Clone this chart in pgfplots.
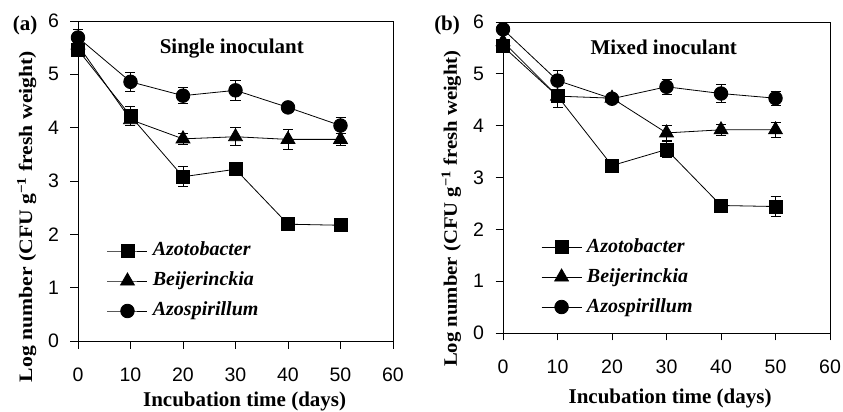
\documentclass[border=0pt]{standalone}
\usepackage{fontspec}
\setmainfont{Liberation Serif}
\setsansfont{Liberation Sans}
\usepackage{pgfplots}
\pgfplotsset{compat=1.18}
\usepackage{pgfplotstable}

% Panel (a): single inoculant
\pgfplotstableread{
x y e
0 5.46 0.08
10 4.22 0.18
20 3.08 0.19
30 3.22 0.07
40 2.19 0.06
50 2.17 0.06
}\aAzt
\pgfplotstableread{
x y e
0 5.55 0.05
10 4.15 0.10
20 3.79 0.10
30 3.83 0.17
40 3.78 0.19
50 3.78 0.12
}\aBei
\pgfplotstableread{
x y e
0 5.69 0.15
10 4.86 0.18
20 4.60 0.15
30 4.70 0.19
40 4.38 0.10
50 4.04 0.15
}\aAzs
% Panel (b): mixed inoculant
\pgfplotstableread{
x y e
0 5.53 0.10
10 4.57 0.21
20 3.23 0.05
30 3.54 0.15
40 2.46 0.05
50 2.44 0.20
}\bAzt
\pgfplotstableread{
x y e
0 5.62 0.05
10 4.57 0.05
20 4.53 0.08
30 3.86 0.14
40 3.92 0.10
50 3.92 0.15
}\bBei
\pgfplotstableread{
x y e
0 5.86 0.05
10 4.87 0.20
20 4.52 0.06
30 4.75 0.15
40 4.62 0.17
50 4.53 0.14
}\bAzs

\newcommand{\ylab}[1]{\scalebox{#1}[1]{Log number (CFU g\textsuperscript{−1} fresh weight)}}

\pgfplotsset{
  panel/.style={
    scale only axis,
    xmin=0, xmax=60, ymin=0, ymax=6,
    xtick={0,10,...,60}, ytick={0,1,...,6},
    tick pos=left, tick align=outside, major tick length=7.5pt,
    /pgf/number format/assume math mode=true,
    ticklabel style={font=\sffamily\fontsize{19.5}{19.5}\selectfont},
    xticklabel style={yshift=-16pt},
    yticklabel style={xshift=-8pt},
    axis line style={line width=0.9pt},
    every tick/.style={black, line width=0.9pt},
    clip=false,
    xlabel={Incubation time (days)},
    xlabel style={font=\bfseries\fontsize{21}{21}\selectfont},
    ylabel style={font=\bfseries\fontsize{19}{19}\selectfont},
    legend style={draw=none, fill=none, inner sep=0pt, row sep=12pt, column sep=5pt,
      font=\bfseries\itshape\fontsize{20}{20}\selectfont,
      nodes={inner sep=0pt, text height=14pt, text depth=4pt}},
    legend cell align=left,
    legend image code/.code={\draw[mark repeat=2,mark phase=2,##1] plot coordinates {(0pt,0pt)(20pt,0pt)(40pt,0pt)};},
  },
  ser/.style={black, line width=0.8pt, mark options={solid, fill=black},
    error bars/y dir=both, error bars/y explicit,
    error bars/error bar style={line width=0.8pt, black},
    error bars/error mark options={rotate=90, mark size=5pt, line width=0.8pt, black}},
}

\begin{document}
\begin{tikzpicture}
\useasboundingbox (0,0) rectangle (843pt,412pt);
\begin{axis}[panel, at={(78pt,71pt)}, anchor=south west, width=315pt, height=320pt,
  ylabel={\ylab{1.14}},
  ylabel style={at={(axis description cs:-0.163,0.389)}, anchor=center},
  xlabel style={at={(axis description cs:0.529,-0.206)}, anchor=base},
  legend style={at={(axis cs:5.5,1.125)}, anchor=west}]
\addplot[ser, mark=square*, mark size=6.5pt] table[x=x, y=y, y error=e] {\aAzt};
\addlegendentry{Azotobacter}
\addplot[ser, mark=triangle*, mark size=8pt] table[x=x, y=y, y error=e] {\aBei};
\addlegendentry{Beijerinckia}
\addplot[ser, mark=*, mark size=6.8pt] table[x=x, y=y, y error=e] {\aAzs};
\addlegendentry{Azospirillum}
\node[font=\bfseries\fontsize{21}{21}\selectfont, anchor=base] at (axis cs:29.3,5.39) {Single inoculant};
\node[font=\bfseries\fontsize{21}{21}\selectfont] at (axis description cs:-0.168,0.985) {(a)};
\end{axis}
\begin{axis}[panel, at={(503pt,79pt)}, anchor=south west, width=327pt, height=311pt,
  ylabel={\ylab{1.09}},
  ylabel style={at={(axis description cs:-0.158,0.40)}, anchor=center},
  xlabel style={at={(axis description cs:0.511,-0.228)}, anchor=base},
  legend style={at={(axis cs:6.97,1.08)}, anchor=west}]
\addplot[ser, mark=square*, mark size=6.5pt] table[x=x, y=y, y error=e] {\bAzt};
\addlegendentry{Azotobacter}
\addplot[ser, mark=triangle*, mark size=8pt] table[x=x, y=y, y error=e] {\bBei};
\addlegendentry{Beijerinckia}
\addplot[ser, mark=*, mark size=6.8pt] table[x=x, y=y, y error=e] {\bAzs};
\addlegendentry{Azospirillum}
\node[font=\bfseries\fontsize{21}{21}\selectfont, anchor=base] at (axis cs:29.5,5.38) {Mixed inoculant};
\node[font=\bfseries\fontsize{21}{21}\selectfont] at (axis description cs:-0.171,0.99) {(b)};
\end{axis}
\end{tikzpicture}
\end{document}
